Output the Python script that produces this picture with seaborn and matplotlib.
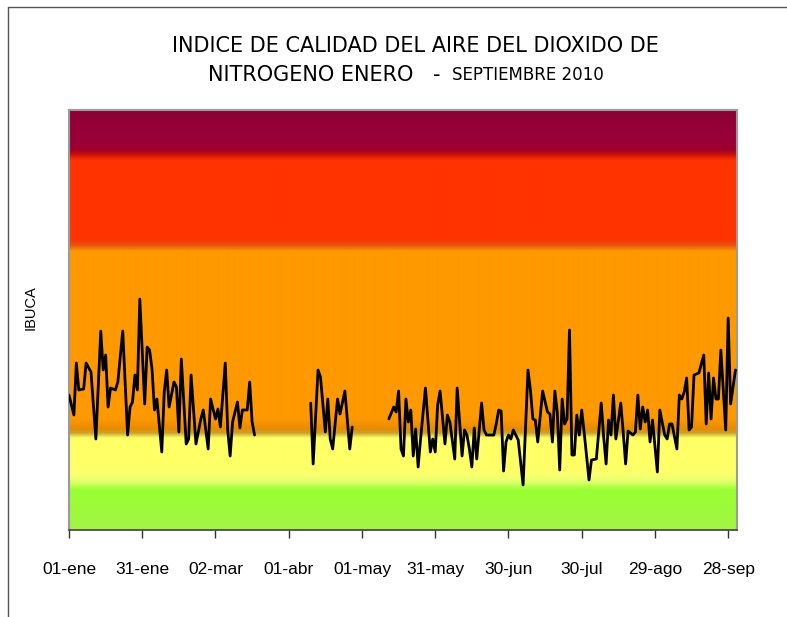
import numpy as np
import pandas as pd
import seaborn as sns
import matplotlib.pyplot as plt
from matplotlib.colors import to_rgb
from matplotlib.lines import Line2D

# dias desde el 01-ene-2010 y valor del indice (tres tramos con datos)
dias_1 = [0, 2, 3, 4, 6, 7, 9, 11, 13, 14, 15, 16, 17, 19, 20, 22, 24, 25, 26, 27,
          28, 29, 31, 32, 33, 34, 35, 36, 38, 39, 40, 41, 43, 44, 45, 46, 48, 49, 50, 52,
          54, 55, 57, 58, 60, 61, 62, 64, 65, 66, 67, 69, 70, 71, 73, 74, 75, 76]
ibuca_1 = [135, 115, 167, 140, 141, 167, 158, 91, 199, 160, 175, 123, 142, 140, 148, 199, 95, 123, 128, 155,
           140, 231, 126, 183, 180, 161, 120, 131, 78, 138, 160, 123, 148, 143, 98, 171, 86, 91, 155, 86,
           111, 120, 81, 131, 111, 121, 103, 167, 100, 74, 108, 128, 102, 120, 120, 148, 108, 95]

dias_2 = [99, 100, 102, 103, 105, 106, 107, 108, 110, 111, 113, 115, 116]
ibuca_2 = [127, 66, 160, 153, 98, 131, 91, 81, 131, 116, 139, 81, 103]

dias_3 = [131, 133, 134, 135, 136, 137, 138, 139, 140, 141, 142, 143, 144, 146, 148, 149, 150, 151, 152, 154,
          155, 156, 158, 159, 161, 162, 163, 164, 165, 166, 167, 169, 170, 171, 174, 175, 176, 177, 178, 179,
          180, 181, 182, 184, 186, 188, 189, 190, 191, 192, 194, 196, 197, 198, 199, 200, 201, 202, 203, 204,
          205, 206, 207, 208, 209, 210, 211, 213, 214, 216, 218, 219, 220, 221, 222, 223, 224, 226, 227, 228,
          229, 231, 232, 233, 234, 235, 236, 237, 238, 239, 241, 242, 244, 245, 246, 247, 249, 250, 251, 252,
          253, 254, 255, 256, 258, 260, 261, 262, 263, 264, 265, 266, 267, 269, 270, 271, 273]
ibuca_3 = [111, 123, 118, 139, 81, 74, 131, 108, 120, 74, 101, 63, 91, 142, 78, 91, 78, 125, 139, 86,
           115, 108, 71, 142, 74, 100, 95, 81, 63, 102, 71, 127, 100, 95, 95, 106, 120, 119, 59, 88,
           95, 91, 100, 90, 45, 160, 140, 111, 110, 88, 139, 118, 116, 88, 139, 118, 60, 131, 106, 111,
           200, 75, 75, 115, 95, 120, 98, 50, 70, 71, 127, 93, 66, 110, 95, 135, 91, 127, 98, 66,
           99, 95, 98, 135, 101, 123, 108, 120, 88, 110, 58, 120, 95, 91, 106, 106, 81, 135, 131, 138,
           152, 100, 103, 155, 157, 175, 106, 157, 111, 152, 131, 131, 180, 100, 212, 126, 160]

pos_x = [0, 30, 60, 90, 120, 150, 180, 210, 240, 270]
etiquetas_x = ['01-ene', '31-ene', '02-mar', '01-abr', '01-may', '31-may', '30-jun', '30-jul', '29-ago', '28-sep']

# franjas de calidad del aire en unidades del eje y
limites = [0, 48, 100, 288, 378, 420]

df = pd.concat([
    pd.DataFrame({'dia': dias_1, 'ibuca': ibuca_1, 'tramo': 1}),
    pd.DataFrame({'dia': dias_2, 'ibuca': ibuca_2, 'tramo': 2}),
    pd.DataFrame({'dia': dias_3, 'ibuca': ibuca_3, 'tramo': 3}),
])

sns.set_style('white')
plt.rcParams['text.color'] = 'black'
arial = ['Liberation Sans', 'DejaVu Sans']

fig = plt.figure(figsize=(7.87, 6.17), dpi=100)
ax = fig.add_axes([0.0877, 0.141, 0.8484, 0.6807])

# fondo degradado por franjas
paradas = [(limites[0], '#a3f545'), (limites[1] - 8, '#99ff33'), (limites[1] - 1, '#d8ff66'),
           (limites[1] + 5, '#f8ff70'), (limites[1] + 14, '#ffff66'), (limites[2] - 8, '#ffff66'),
           (limites[2] - 3, '#c9a22c'), (limites[2] + 1, '#e88c00'), (limites[2] + 12, '#ff9900'),
           (limites[3] - 9, '#ff9900'), (limites[3] - 3, '#e65212'), (limites[3] + 3, '#ff3300'),
           (limites[4] - 8, '#ff3300'), (limites[4] - 2, '#c8100a'), (limites[4] + 2, '#a0002a'),
           (limites[4] + 12, '#9a0038'), (limites[5], '#8c0033')]
pos = [p for p, c in paradas]
cols = np.array([to_rgb(c) for p, c in paradas])
ys = np.linspace(limites[0], limites[-1], 840)
rgb = np.stack([np.interp(ys, pos, cols[:, i]) for i in range(3)], axis=1)
ax.imshow(rgb[:, None, :], extent=[0, 273.5, limites[0], limites[-1]], origin='lower',
          aspect='auto', interpolation='bilinear', zorder=0)

sns.lineplot(data=df, x='dia', y='ibuca', units='tramo', estimator=None,
             color='black', linewidth=2.0, ax=ax, zorder=3)

ax.set_xlim(0, 273.5)
ax.set_ylim(limites[0], limites[-1])
ax.set_yticks([])
ax.set_xticks(pos_x)
ax.set_xticklabels(etiquetas_x, family=arial, fontsize=12.5, color='black')
ax.tick_params(axis='x', direction='out', length=6, width=1, color='#333333', pad=17, bottom=True)
ax.set_xlabel('')
ax.set_ylabel('IBUCA', family=arial, fontsize=10.5, color='black')
ax.yaxis.set_label_coords(-0.047, 0.53)

for s in ['top', 'left', 'right']:
    ax.spines[s].set_color('#9a9a9a')
    ax.spines[s].set_linewidth(1.5)
ax.spines['bottom'].set_color('#404040')
ax.spines['bottom'].set_linewidth(1.2)

fig.text(0.528, 0.926, 'INDICE DE CALIDAD DEL AIRE DEL DIOXIDO DE', ha='center', va='center',
         fontsize=15, color='black')
fig.text(413 / 787, 0.879, 'NITROGENO ENERO', ha='right', va='center', fontsize=15, color='black')
fig.text(437 / 787, 0.879, '-', ha='center', va='center', fontsize=15, color='black')
fig.text(452 / 787, 0.879, 'SEPTIEMBRE 2010', ha='left', va='center', fontsize=12, color='black')

# marco exterior
fig.add_artist(Line2D([8 / 787, 8 / 787], [0, 1 - 7 / 617], transform=fig.transFigure, color='#555555', lw=1))
fig.add_artist(Line2D([8 / 787, 1], [1 - 7 / 617, 1 - 7 / 617], transform=fig.transFigure, color='#555555', lw=1))

fig.savefig('out.png', dpi=100)
